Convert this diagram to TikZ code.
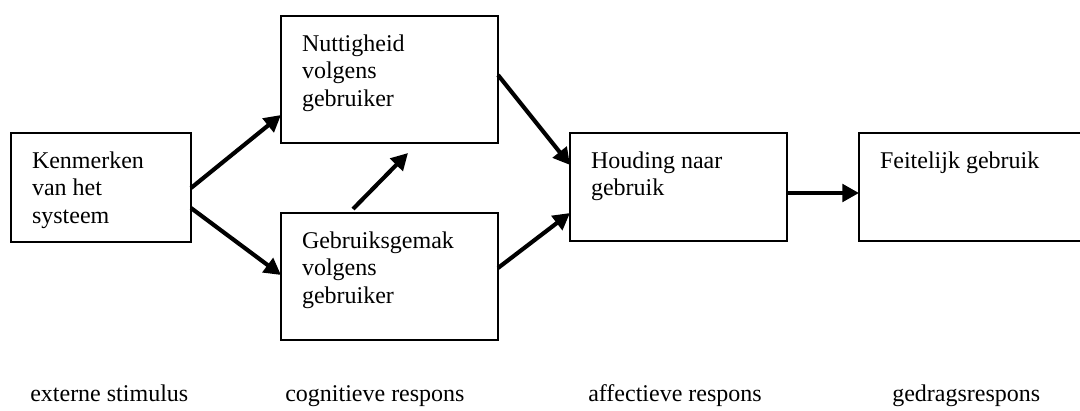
\documentclass[tikz,border=0pt]{standalone}
\usepackage{fontspec}
\setmainfont{Liberation Serif}
\usetikzlibrary{arrows.meta,calc}
\begin{document}
\begin{tikzpicture}[x=0.75pt,y=-0.75pt,
  box/.style={draw,line width=1.5pt,rectangle,inner sep=0pt,outer sep=0pt},
  txt/.style={anchor=north west,inner sep=0pt,outer sep=0pt,align=left,font=\fontsize{18}{20.6}\selectfont},
  lbl/.style={anchor=base west,inner sep=0pt,font=\fontsize{18}{20.6}\selectfont},
  arr/.style={line width=3.1pt,-{Triangle[length=12.5pt,width=13pt]}}]
\useasboundingbox (0,0) rectangle (1080,410);
\clip (0,0) rectangle (1080,410);
\node[box,minimum width=135pt,minimum height=81.75pt] (A) at (101,187.5) {};
\node[box,minimum width=162.75pt,minimum height=95.25pt] (B) at (389.5,79.5) {};
\node[box,minimum width=162.75pt,minimum height=95.25pt] (C) at (389.5,276.5) {};
\node[box,minimum width=162.75pt,minimum height=81pt] (D) at (678.5,187) {};
\node[box,minimum width=173.25pt,minimum height=81pt] (E) at (974.5,187) {};
\node[txt] (tA) at ($(A.north west)+(21,18.6)$) {Kenmerken\\van het\\systeem};
\node[txt] (tB) at ($(B.north west)+(21,18.6)$) {Nuttigheid\\volgens\\gebruiker};
\node[txt] (tC) at ($(C.north west)+(21,18.6)$) {Gebruiksgemak\\volgens\\gebruiker};
\node[txt] (tD) at ($(D.north west)+(21,18.6)$) {Houding naar\\gebruik};
\node[txt] (tE) at ($(E.north west)+(21,18.6)$) {Feitelijk gebruik};
\draw[arr] ($(A.east)+(0,0.5)$) -- ($(B.west)+(0,35.5)$);
\draw[arr] ($(A.east)+(0,20.5)$) -- ($(C.west)+(0,-1.5)$);
\draw[arr] ($(C.north)+(-36.5,-4)$) -- ($(B.south)+(18.5,10)$);
\draw[arr] ($(B.east)+(0,-4.5)$) -- ($(D.west)+(0,-22)$);
\draw[arr] ($(C.east)+(0,-8.5)$) -- ($(D.west)+(0,26)$);
\draw[arr] ($(D.east)+(0,6)$) -- ($(E.west)+(0,6)$);
\node[lbl] (l1) at (30,401) {externe stimulus};
\node[lbl] (l2) at (285,401) {cognitieve respons};
\node[lbl] (l3) at (588,401) {affectieve respons};
\node[lbl] (l4) at (892,401) {gedragsrespons};
\end{tikzpicture}
\end{document}
